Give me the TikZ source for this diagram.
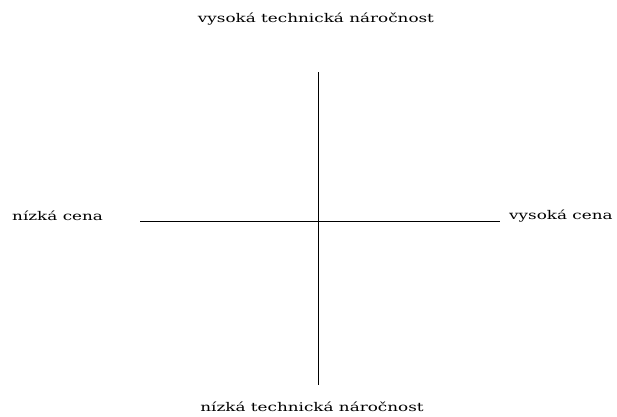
\documentclass[tikz,border=0pt]{standalone}
\usepackage{fontspec}
\setmainfont{DejaVu Serif}[FakeStretch=1.4]
\usetikzlibrary{positioning}

\begin{document}
\begin{tikzpicture}[x=1pt, y=-1pt, lbl/.style={font=\fontsize{12}{14}\selectfont, inner sep=0pt}, axis/.style={draw, line width=1pt}]
  \useasboundingbox (0,0) rectangle (617,416);
  \coordinate (top) at (318,72);
  \coordinate (bot) at (318,385);
  \coordinate (lft) at (140,221);
  \coordinate (rgt) at (500,221);
  \draw[axis] (top) -- (bot);
  \draw[axis] (lft) -- (rgt);

  \node[lbl] (hi) at (316,19) {vysoká technická náročnost};
  \node[lbl] (lo) at (312,407) {nízká technická náročnost};
  \node[lbl,anchor=west] (cheap) at (12,216) {nízká cena};
  \node[lbl,anchor=west] (dear) at (509,216) {vysoká cena};
\end{tikzpicture}
\end{document}
